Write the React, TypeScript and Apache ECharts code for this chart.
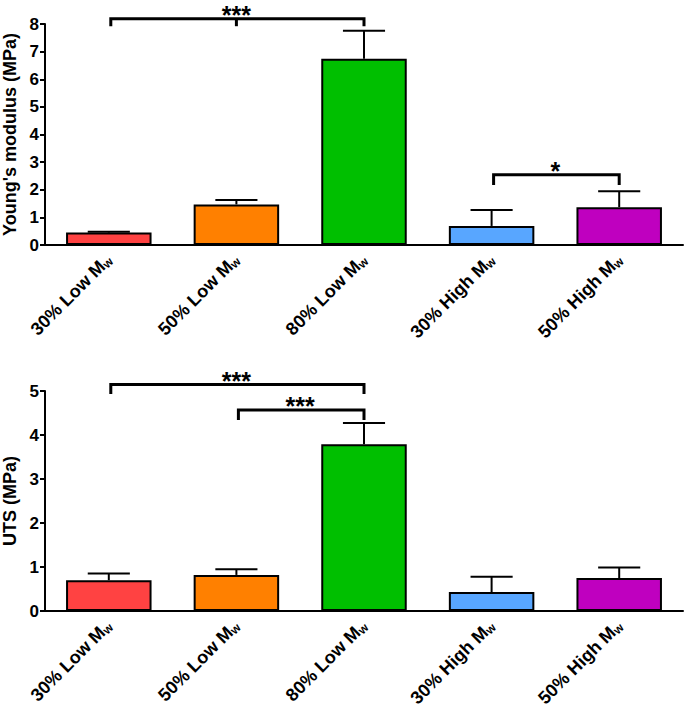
import React, { useEffect, useRef } from "react";
import * as echarts from "echarts";

const categories = ["30% Low M", "50% Low M", "80% Low M", "30% High M", "50% High M"];
const barColors = ["#FF4242", "#FF8000", "#00BF00", "#58A6FF", "#BF00BF"];

const youngMean = [0.45, 1.47, 6.74, 0.69, 1.37];
const youngErrTop = [0.48, 1.63, 7.76, 1.27, 1.95];
const utsMean = [0.7, 0.82, 3.79, 0.43, 0.75];
const utsErrTop = [0.85, 0.95, 4.27, 0.78, 0.99];

const youngTicks = { min: 0, max: 8, interval: 1 };
const utsTicks = { min: 0, max: 5, interval: 1 };

// brackets: [fromIdx, toIdx, lineY, dropY, midIdx(-1 none), label]
const youngBrackets: [number, number, number, number, number, string][] = [
  [0, 2, 8.19, 7.92, 1, "***"],
  [3, 4, 2.54, 2.17, -1, "*"],
];
const utsBrackets: [number, number, number, number, number, string][] = [
  [0, 2, 5.15, 4.93, -1, "***"],
  [1, 2, 4.57, 4.34, -1, "***"],
];

const FONT = "Arial, 'Liberation Sans', Helvetica, sans-serif";

function errorSeries(gi: number, mean: number[], top: number[]) {
  return {
    type: "custom",
    xAxisIndex: gi,
    yAxisIndex: gi,
    clip: false,
    z: 5,
    data: mean.map((m, i) => [i, m, top[i]]),
    renderItem: (params: any, api: any) => {
      const p0 = api.coord([api.value(0), api.value(1)]);
      const p1 = api.coord([api.value(0), api.value(2)]);
      const half = api.size([1, 0])[0] * 0.165;
      const ls = { stroke: "#000", lineWidth: 2 };
      return {
        type: "group",
        children: [
          { type: "line", shape: { x1: p0[0], y1: p0[1], x2: p1[0], y2: p1[1] }, style: ls },
          { type: "line", shape: { x1: p1[0] - half, y1: p1[1], x2: p1[0] + half, y2: p1[1] }, style: ls },
        ],
      };
    },
  };
}

function bracketSeries(gi: number, br: [number, number, number, number, number, string][]) {
  return {
    type: "custom",
    xAxisIndex: gi,
    yAxisIndex: gi,
    clip: false,
    z: 6,
    data: br.map((b) => [b[0], b[2], b[1], b[3], b[4]]),
    renderItem: (params: any, api: any) => {
      const b = br[params.dataIndex];
      const a = api.coord([b[0], b[2]]);
      const c = api.coord([b[1], b[2]]);
      const aD = api.coord([b[0], b[3]]);
      const cD = api.coord([b[1], b[3]]);
      const ls = { stroke: "#000", lineWidth: 3, fill: "none" };
      const children: any[] = [
        {
          type: "polyline",
          shape: { points: [[aD[0] + 2, aD[1]], [a[0] + 2, a[1]], [c[0], c[1]], [cD[0], cD[1]]] },
          style: ls,
        },
      ];
      if (b[4] >= 0) {
        const m = api.coord([b[4], b[2]]);
        const mD = api.coord([b[4], b[3]]);
        children.push({ type: "line", shape: { x1: m[0], y1: m[1], x2: mD[0], y2: mD[1] }, style: ls });
      }
      children.push({
        type: "text",
        style: {
          text: b[5],
          x: (a[0] + c[0]) / 2,
          y: Math.max(a[1] - 3.5, 14.5),
          align: "center",
          verticalAlign: "middle",
          lineHeight: 14,
          font: `bold 25px ${FONT}`,
          fill: "#000",
        },
      });
      return { type: "group", children };
    },
  };
}

function xAxis(gi: number) {
  return {
    type: "category",
    gridIndex: gi,
    data: categories,
    axisLine: { lineStyle: { color: "#000", width: 2 } },
    axisTick: { alignWithLabel: true, length: 5, lineStyle: { color: "#000", width: 2 } },
    axisLabel: {
      rotate: 45,
      margin: 12,
      interval: 0,
      formatter: (v: string) => `{m|${v}}{s|w}`,
      rich: {
        m: { fontFamily: FONT, fontWeight: "bold", fontSize: 18, color: "#000" },
        s: { fontFamily: FONT, fontWeight: "bold", fontSize: 12, color: "#000", padding: [7, 0, 0, 0] },
      },
    },
  };
}

function yAxis(gi: number, name: string, t: { min: number; max: number; interval: number }) {
  return {
    type: "value",
    gridIndex: gi,
    min: t.min,
    max: t.max,
    interval: t.interval,
    name,
    nameLocation: "middle",
    nameGap: 24,
    nameTextStyle: { fontFamily: FONT, fontWeight: "bold", fontSize: 18, color: "#000" },
    axisLine: { show: true, lineStyle: { color: "#000", width: 2 } },
    axisTick: { show: true, length: 5, lineStyle: { color: "#000", width: 2 } },
    axisLabel: { fontFamily: FONT, fontWeight: "bold", fontSize: 17, color: "#000", margin: 6 },
    splitLine: { show: false },
  };
}

function barSeries(gi: number, vals: number[]) {
  return {
    type: "bar",
    xAxisIndex: gi,
    yAxisIndex: gi,
    barWidth: "67%",
    data: vals.map((v, i) => ({
      value: v,
      itemStyle: { color: barColors[i], borderColor: "#000", borderWidth: 2 },
    })),
  };
}

export default function App() {
  const ref = useRef<HTMLDivElement>(null);
  useEffect(() => {
    if (!ref.current) return;
    const chart = echarts.init(ref.current, undefined, { renderer: "svg" });
    chart.setOption({
      animation: false,
      backgroundColor: "#fff",
      grid: [
        { left: 45, right: 3, top: 24, height: 221, containLabel: false, outerBoundsMode: "none" },
        { left: 45, right: 3, top: 391, height: 220, containLabel: false, outerBoundsMode: "none" },
      ],
      xAxis: [xAxis(0), xAxis(1)],
      yAxis: [yAxis(0, "Young's modulus (MPa)", youngTicks), yAxis(1, "UTS (MPa)", utsTicks)],
      series: [
        barSeries(0, youngMean),
        errorSeries(0, youngMean, youngErrTop),
        bracketSeries(0, youngBrackets),
        barSeries(1, utsMean),
        errorSeries(1, utsMean, utsErrTop),
        bracketSeries(1, utsBrackets),
      ],
    });
    return () => chart.dispose();
  }, []);
  return (
    <div
      ref={ref}
      style={{ position: "absolute", left: 0, top: 0, width: 686, height: 708 }}
    />
  );
}
